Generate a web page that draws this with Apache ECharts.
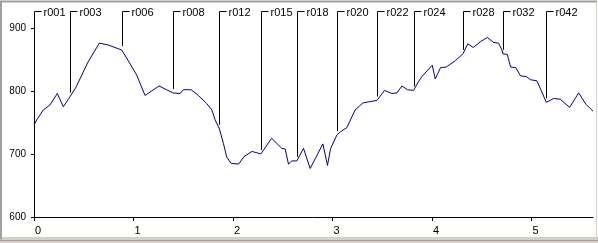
<!DOCTYPE html>
<html>
<head>
<meta charset="utf-8">
<script src="https://cdn.jsdelivr.net/npm/echarts@6/dist/echarts.min.js"></script>
<style>
html,body{margin:0;padding:0;background:#fff;}
#c{width:598px;height:243px;}
</style>
</head>
<body>
<div id="c"></div>
<script>
// distance along the route
const distances = [0.000,0.027,0.094,0.161,0.234,0.295,0.362,0.422,0.543,0.657,0.747,0.882,0.955,1.033,1.066,1.116,1.257,1.395,1.468,1.501,1.579,1.652,1.736,1.787,1.820,1.863,1.903,1.937,1.981,2.056,2.111,2.189,2.239,2.279,2.388,2.490,2.524,2.557,2.591,2.641,2.708,2.775,2.903,2.949,2.981,3.043,3.077,3.144,3.227,3.305,3.371,3.446,3.522,3.596,3.647,3.697,3.753,3.814,3.864,3.898,4.002,4.032,4.085,4.142,4.233,4.310,4.359,4.414,4.484,4.555,4.618,4.668,4.702,4.712,4.756,4.789,4.841,4.889,4.947,4.987,5.054,5.148,5.221,5.288,5.382,5.473,5.545,5.617];
// value at each distance
const values = [746,754,770,778,796,775,791,806,846,876,873,865,846,825,812,793,808,797,796,802,802,793,780,770,754,740,717,695,685,684,696,704,702,700,725,709,708,684,689,689,709,677,716,682,709,730,735,742,770,781,783,785,801,796,797,808,802,801,815,823,841,819,837,838,848,859,875,869,878,885,877,876,865,859,858,838,837,824,823,818,816,782,788,787,774,797,779,768];
// labelled stops: names and the index of their point in the arrays above
const stopNames = ['r001','r003','r006','r008','r012','r015','r018','r020','r022','r024','r028','r032','r042'];
const stopIndex = [0,6,11,17,25,33,39,45,51,57,65,73,81];
// axis ticks
const xTicks = [0,1,2,3,4,5];
const yTicks = [600,700,800,900];

const lineData = distances.map((d,i)=>[d, values[i]]);
const stopData = stopIndex.map((k,i)=>({name: stopNames[i], value:[distances[k], values[k]]}));

const chart = echarts.init(document.getElementById('c'), null, {renderer:'canvas'});
chart.setOption({
  animation:false,
  backgroundColor:'#ffffff',
  graphic:[
    {type:'rect', silent:true, z:-10, shape:{x:0,y:237,width:598,height:6}, style:{fill:'#d4d0c8'}},
    {type:'polyline', silent:true, shape:{points:[[1,239.5],[1,1.5],[597,1.5]]}, style:{stroke:'#a0a0a0',lineWidth:2,fill:null}},
    {type:'line', silent:true, shape:{x1:0,y1:240.5,x2:598,y2:240.5}, style:{stroke:'#a0a0a0',lineWidth:1}},
    {type:'line', silent:true, shape:{x1:596.5,y1:2,x2:596.5,y2:238}, style:{stroke:'#d4d0c8',lineWidth:1}}
  ],
  grid:{left:34, right:5, top:28, bottom:26, containLabel:false},
  xAxis:{
    type:'value', min:xTicks[0], max:distances[distances.length-1], interval:1,
    splitLine:{show:false},
    axisLine:{show:true, onZero:false, lineStyle:{color:'#000',width:1}},
    axisTick:{show:true, length:4, lineStyle:{color:'#000'}, customValues:xTicks},
    axisLabel:{customValues:xTicks, color:'#000', fontSize:11, fontFamily:'Liberation Sans, Arial, sans-serif', margin:8, align:'left', padding:[0,0,0,1]}
  },
  yAxis:{
    type:'value', min:yTicks[0], max:yTicks[yTicks.length-1], interval:100,
    splitLine:{show:false},
    axisLine:{show:true, lineStyle:{color:'#000',width:1}},
    axisTick:{show:true, length:3, lineStyle:{color:'#000'}},
    axisLabel:{color:'#000', fontSize:10, fontFamily:'Liberation Sans, Arial, sans-serif', margin:8}
  },
  series:[
    {type:'line', data:lineData, showSymbol:false, symbol:'none', clip:false,
     lineStyle:{color:'#000080', width:1}, z:3},
    {type:'custom', data:stopData, clip:false, z:2,
     renderItem:function(params, api){
       const p = api.coord([api.value(0), api.value(1)]);
       const x = Math.round(p[0]) + 0.5;
       const top = 11.5;
       const name = stopData[params.dataIndex].name;
       return {type:'group', children:[
         {type:'polyline', shape:{points:[[x, p[1]-4],[x, top],[x+7, top]]}, style:{stroke:'#000', lineWidth:1, fill:null}},
         {type:'text', style:{text:name, x:x+9, y:top+1, verticalAlign:'middle', align:'left', font:'11px "Liberation Sans", Arial, sans-serif', fill:'#000'}}
       ]};
     }}
  ]
});
</script>
</body>
</html>
